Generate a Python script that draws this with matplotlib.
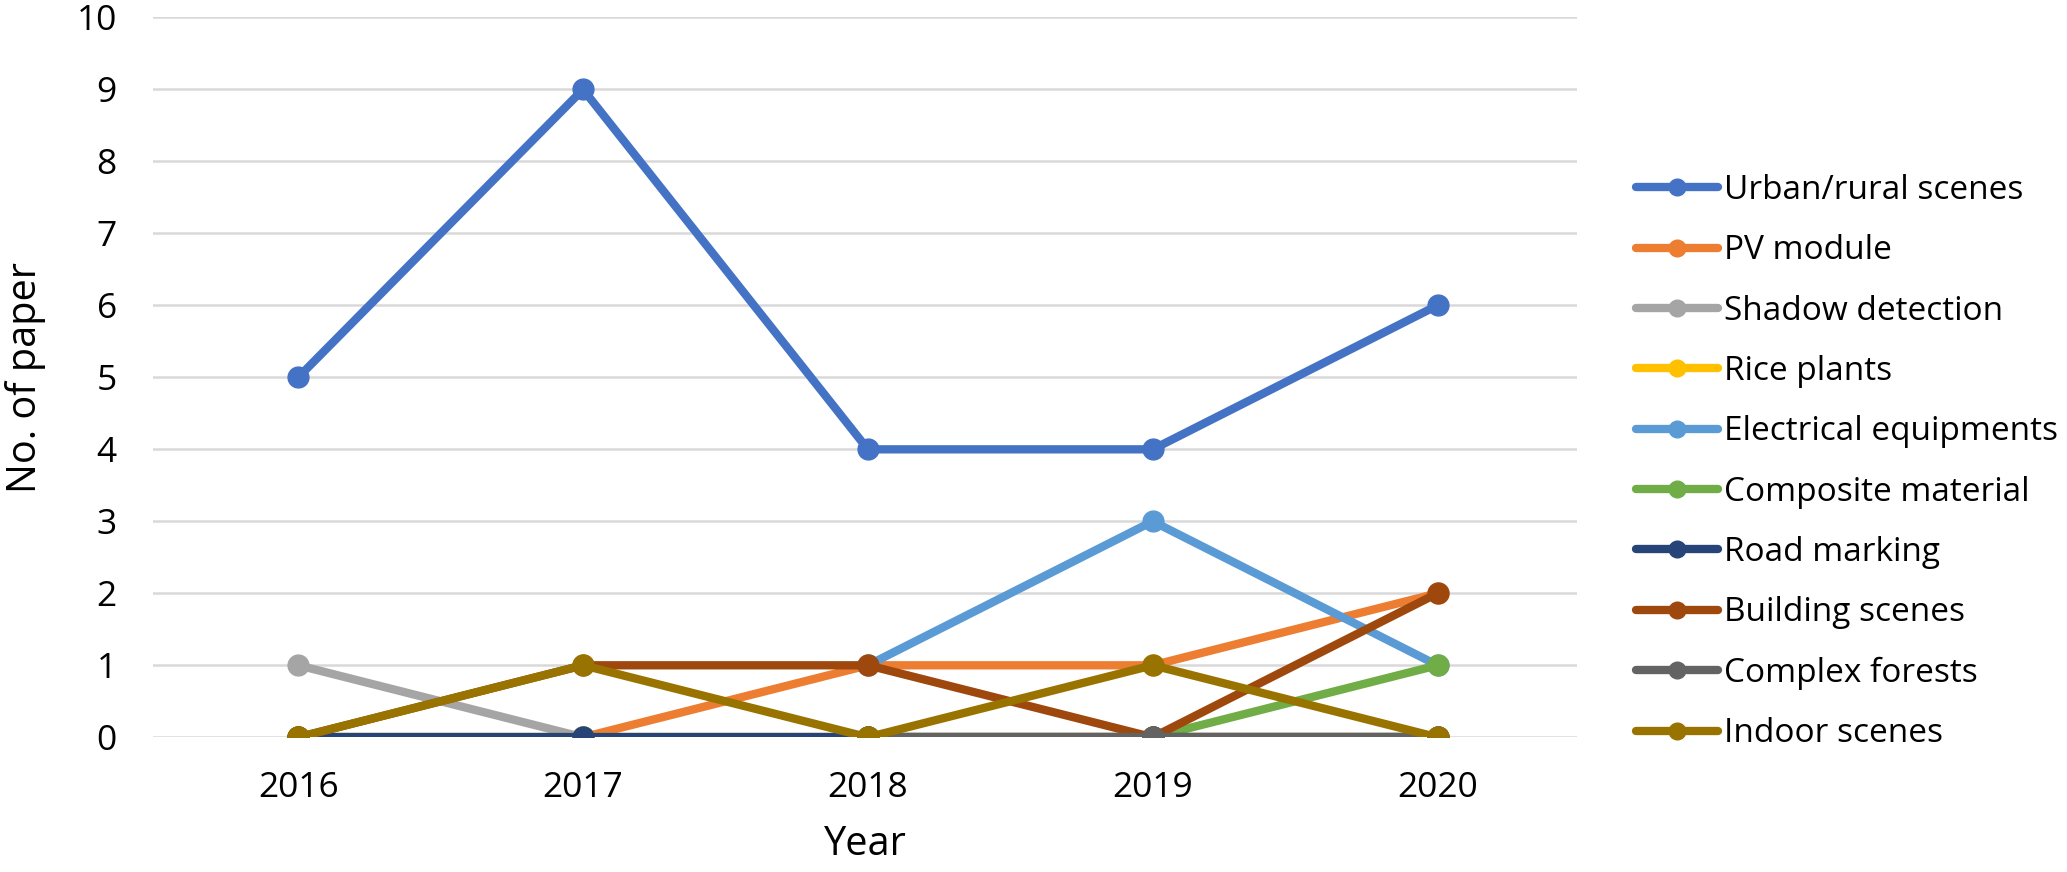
import matplotlib
matplotlib.use("Agg")

import matplotlib.pyplot as plt
import numpy as np

plt.rcParams["font.family"] = ["Open Sans", "DejaVu Sans"]

years = [2016, 2017, 2018, 2019, 2020]

urban_rural = [5, 9, 4, 4, 6]
pv_module = [0, 0, 1, 1, 2]
shadow_detection = [1, 0, 0, 0, 0]
rice_plants = [0, 0, 0, 0, 0]
electrical_equipments = [np.nan, np.nan, 1, 3, 1]
composite_material = [0, 0, 0, 0, 1]
road_marking = [0, 0, 0, 0, 0]
building_scenes = [0, 1, 1, 0, 2]
complex_forests = [np.nan, np.nan, 0, 0, 0]
indoor_scenes = [0, 1, 0, 1, 0]

series = [
    ("Urban/rural scenes", urban_rural, "#4472C4"),
    ("PV module", pv_module, "#ED7D31"),
    ("Shadow detection", shadow_detection, "#A5A5A5"),
    ("Rice plants", rice_plants, "#FFC000"),
    ("Electrical equipments", electrical_equipments, "#5B9BD5"),
    ("Composite material", composite_material, "#70AD47"),
    ("Road marking", road_marking, "#264478"),
    ("Building scenes", building_scenes, "#9E480E"),
    ("Complex forests", complex_forests, "#636363"),
    ("Indoor scenes", indoor_scenes, "#997300"),
]

fig = plt.figure(figsize=(20.67, 8.72), dpi=100)
ax = fig.add_axes([0.074, 0.1545, 0.689, 0.8255])

for name, vals, color in series:
    ax.plot(years, vals, color=color, linewidth=6, marker="o",
            markersize=15, label=name, solid_capstyle="round")

ax.set_xlim(2015.49, 2020.49)
ax.set_ylim(0, 10)
ax.set_yticks(range(0, 11))
ax.set_xticks(years)
ax.grid(axis="y", color="#D9D9D9", linewidth=1.8)
ax.set_axisbelow(True)
for sp in ax.spines.values():
    sp.set_visible(False)
ax.tick_params(length=0, labelsize=25.5)
ax.tick_params(axis="y", pad=26)
ax.tick_params(axis="x", pad=24)

ax.set_xlabel("Year", fontsize=28.5, labelpad=14)
ax.set_ylabel("No. of paper", fontsize=28.5, labelpad=22)

ax.legend(loc="center left", bbox_to_anchor=(0.777, 0.47),
          bbox_transform=fig.transFigure, frameon=False, fontsize=24,
          handlelength=2.46, handletextpad=0.18, labelspacing=0.82,
          markerscale=0.8)

fig.savefig("out.png", dpi=100)
